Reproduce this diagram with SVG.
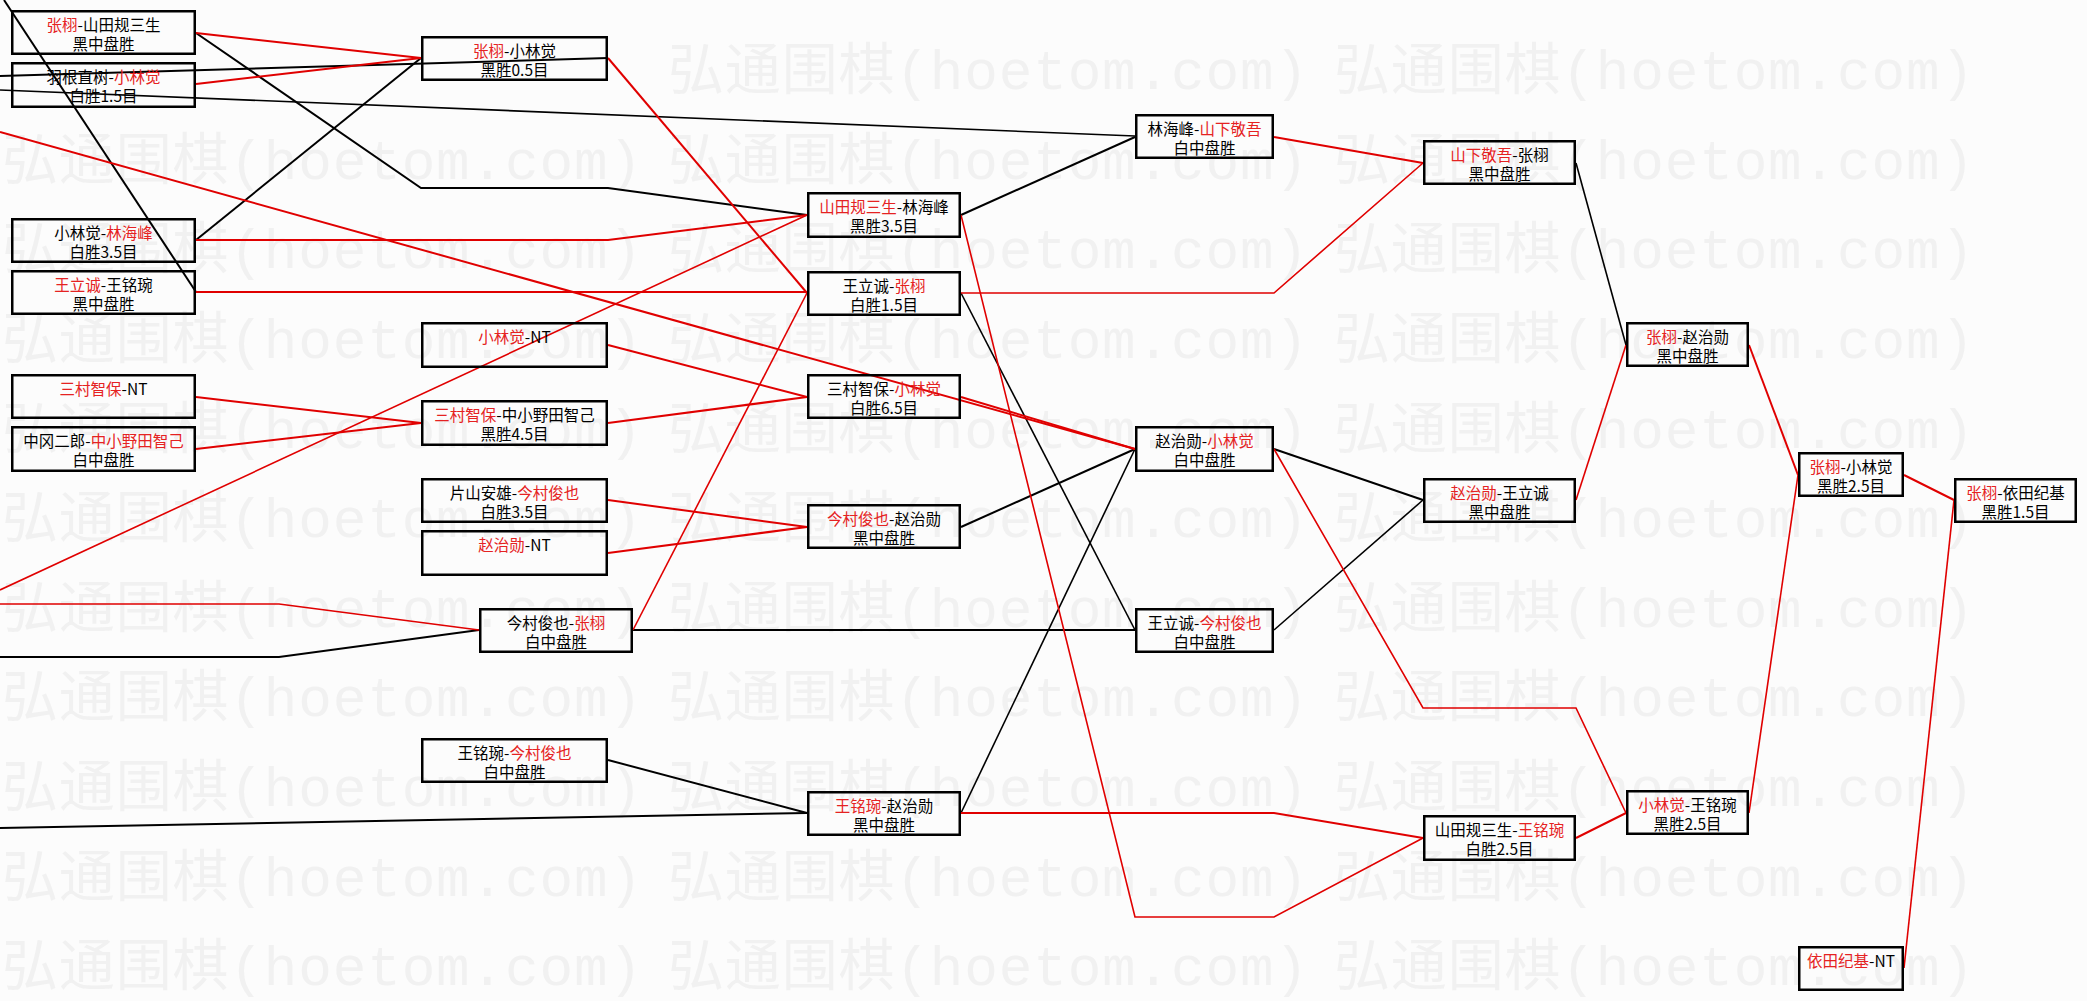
<svg xmlns="http://www.w3.org/2000/svg" width="2087" height="1001" viewBox="0 0 2087 1001">
<style>
.bg{fill:#fcfcfc}
.wm{font-family:"Liberation Mono","Noto Sans CJK SC",monospace;font-size:56px;fill:#f1f1f1}
.b{fill:none;stroke:#000;stroke-width:2.5}
.t{font-family:"Noto Sans CJK SC",sans-serif;font-size:15.5px;text-anchor:middle;fill:#000}
.r{fill:#e52222}
.k{fill:none;stroke:#000;stroke-width:2}
.rl{fill:none;stroke:#e00000;stroke-width:2}
.th{stroke-width:1.6}
</style>
<rect class="bg" x="0" y="0" width="2087" height="1001"/>
<g id="watermark" class="wm">
<text x="668" y="89" textLength="640" lengthAdjust="spacing">弘通围棋(hoetom.com)</text>
<text x="1334" y="89" textLength="640" lengthAdjust="spacing">弘通围棋(hoetom.com)</text>
<text x="2" y="179" textLength="640" lengthAdjust="spacing">弘通围棋(hoetom.com)</text>
<text x="668" y="179" textLength="640" lengthAdjust="spacing">弘通围棋(hoetom.com)</text>
<text x="1334" y="179" textLength="640" lengthAdjust="spacing">弘通围棋(hoetom.com)</text>
<text x="2" y="268" textLength="640" lengthAdjust="spacing">弘通围棋(hoetom.com)</text>
<text x="668" y="268" textLength="640" lengthAdjust="spacing">弘通围棋(hoetom.com)</text>
<text x="1334" y="268" textLength="640" lengthAdjust="spacing">弘通围棋(hoetom.com)</text>
<text x="2" y="358" textLength="640" lengthAdjust="spacing">弘通围棋(hoetom.com)</text>
<text x="668" y="358" textLength="640" lengthAdjust="spacing">弘通围棋(hoetom.com)</text>
<text x="1334" y="358" textLength="640" lengthAdjust="spacing">弘通围棋(hoetom.com)</text>
<text x="2" y="448" textLength="640" lengthAdjust="spacing">弘通围棋(hoetom.com)</text>
<text x="668" y="448" textLength="640" lengthAdjust="spacing">弘通围棋(hoetom.com)</text>
<text x="1334" y="448" textLength="640" lengthAdjust="spacing">弘通围棋(hoetom.com)</text>
<text x="2" y="537" textLength="640" lengthAdjust="spacing">弘通围棋(hoetom.com)</text>
<text x="668" y="537" textLength="640" lengthAdjust="spacing">弘通围棋(hoetom.com)</text>
<text x="1334" y="537" textLength="640" lengthAdjust="spacing">弘通围棋(hoetom.com)</text>
<text x="2" y="627" textLength="640" lengthAdjust="spacing">弘通围棋(hoetom.com)</text>
<text x="668" y="627" textLength="640" lengthAdjust="spacing">弘通围棋(hoetom.com)</text>
<text x="1334" y="627" textLength="640" lengthAdjust="spacing">弘通围棋(hoetom.com)</text>
<text x="2" y="716" textLength="640" lengthAdjust="spacing">弘通围棋(hoetom.com)</text>
<text x="668" y="716" textLength="640" lengthAdjust="spacing">弘通围棋(hoetom.com)</text>
<text x="1334" y="716" textLength="640" lengthAdjust="spacing">弘通围棋(hoetom.com)</text>
<text x="2" y="806" textLength="640" lengthAdjust="spacing">弘通围棋(hoetom.com)</text>
<text x="668" y="806" textLength="640" lengthAdjust="spacing">弘通围棋(hoetom.com)</text>
<text x="1334" y="806" textLength="640" lengthAdjust="spacing">弘通围棋(hoetom.com)</text>
<text x="2" y="896" textLength="640" lengthAdjust="spacing">弘通围棋(hoetom.com)</text>
<text x="668" y="896" textLength="640" lengthAdjust="spacing">弘通围棋(hoetom.com)</text>
<text x="1334" y="896" textLength="640" lengthAdjust="spacing">弘通围棋(hoetom.com)</text>
<text x="2" y="985" textLength="640" lengthAdjust="spacing">弘通围棋(hoetom.com)</text>
<text x="668" y="985" textLength="640" lengthAdjust="spacing">弘通围棋(hoetom.com)</text>
<text x="1334" y="985" textLength="640" lengthAdjust="spacing">弘通围棋(hoetom.com)</text>
</g>
<g id="connectors">
<polyline class="k" points="0,76 608,58"/>
<polyline class="k th" points="0,90 1135,136"/>
<polyline class="k" points="4,0 196,292"/>
<polyline class="k" points="196,33 421,188 608,188 807,215"/>
<polyline class="k" points="196,240 421,58"/>
<polyline class="k" points="0,657 279,657 479,630"/>
<polyline class="k" points="633,630 1135,630"/>
<polyline class="k" points="0,828 807,813"/>
<polyline class="k" points="608,760 807,813"/>
<polyline class="k th" points="961,813 1135,449"/>
<polyline class="k" points="961,215 1135,137"/>
<polyline class="k th" points="961,293 1135,630"/>
<polyline class="k" points="961,527 1135,449"/>
<polyline class="k" points="1274,449 1423,500"/>
<polyline class="k th" points="1274,630 1423,500"/>
<polyline class="k th" points="1576,163 1626,345"/>
<polyline class="rl" points="196,33 421,58"/>
<polyline class="rl" points="196,84 421,58"/>
<polyline class="rl" points="196,240 608,240 807,215"/>
<polyline class="rl" points="196,292 807,292"/>
<polyline class="rl" points="0,132 1135,449"/>
<polyline class="rl" points="608,58 807,293"/>
<polyline class="rl" points="608,345 807,397"/>
<polyline class="rl" points="608,423 807,397"/>
<polyline class="rl" points="196,397 421,423"/>
<polyline class="rl" points="196,449 421,423"/>
<polyline class="rl th" points="0,590 807,215"/>
<polyline class="rl th" points="0,604 279,604 479,630"/>
<polyline class="rl th" points="633,630 807,293"/>
<polyline class="rl" points="608,500 807,527"/>
<polyline class="rl" points="608,553 807,527"/>
<polyline class="rl" points="961,397 1135,449"/>
<polyline class="rl" points="961,813 1274,813 1423,838"/>
<polyline class="rl th" points="961,215 1135,917 1274,917 1423,838"/>
<polyline class="rl th" points="961,293 1274,293 1423,163"/>
<polyline class="rl" points="1274,137 1423,163"/>
<polyline class="rl th" points="1274,449 1423,708 1576,708 1626,813"/>
<polyline class="rl" points="1576,838 1626,813"/>
<polyline class="rl th" points="1576,500 1626,345"/>
<polyline class="rl" points="1749,345 1798,475"/>
<polyline class="rl th" points="1749,813 1798,475"/>
<polyline class="rl" points="1904,475 1954,500"/>
<polyline class="rl th" points="1904,968 1954,500"/>
</g>
<g id="n1"><rect class="b" x="12.25" y="11.25" width="182.5" height="42.5"/><text class="t" x="103.5" y="31"><tspan class="r">张栩</tspan>-山田规三生</text><text class="t" x="103.5" y="49.5">黑中盘胜</text></g>
<g id="n2"><rect class="b" x="12.25" y="63.25" width="182.5" height="43.5"/><text class="t" x="103.5" y="83">羽根直树-<tspan class="r">小林觉</tspan></text><text class="t" x="103.5" y="101.5">白胜1.5目</text></g>
<g id="n3"><rect class="b" x="12.25" y="219.25" width="182.5" height="42.5"/><text class="t" x="103.5" y="239">小林觉-<tspan class="r">林海峰</tspan></text><text class="t" x="103.5" y="257.5">白胜3.5目</text></g>
<g id="n4"><rect class="b" x="12.25" y="271.25" width="182.5" height="42.5"/><text class="t" x="103.5" y="291"><tspan class="r">王立诚</tspan>-王铭琬</text><text class="t" x="103.5" y="309.5">黑中盘胜</text></g>
<g id="n5"><rect class="b" x="12.25" y="375.25" width="182.5" height="42.5"/><text class="t" x="103.5" y="395"><tspan class="r">三村智保</tspan>-NT</text></g>
<g id="n6"><rect class="b" x="12.25" y="427.25" width="182.5" height="43.5"/><text class="t" x="103.5" y="447"><tspan>中冈二郎-</tspan><tspan class="r">中小野田智己</tspan></text><text class="t" x="103.5" y="465.5">白中盘胜</text></g>
<g id="m1"><rect class="b" x="422.25" y="37.25" width="184.5" height="42.5"/><text class="t" x="514.5" y="57"><tspan class="r">张栩</tspan>-小林觉</text><text class="t" x="514.5" y="75.5">黑胜0.5目</text></g>
<g id="m2"><rect class="b" x="422.25" y="323.25" width="184.5" height="43.5"/><text class="t" x="514.5" y="343"><tspan class="r">小林觉</tspan>-NT</text></g>
<g id="m3"><rect class="b" x="422.25" y="401.25" width="184.5" height="43.5"/><text class="t" x="514.5" y="421"><tspan class="r">三村智保</tspan>-中小野田智己</text><text class="t" x="514.5" y="439.5">黑胜4.5目</text></g>
<g id="m4"><rect class="b" x="422.25" y="479.25" width="184.5" height="42.5"/><text class="t" x="514.5" y="499">片山安雄-<tspan class="r">今村俊也</tspan></text><text class="t" x="514.5" y="517.5">白胜3.5目</text></g>
<g id="m5"><rect class="b" x="422.25" y="531.25" width="184.5" height="43.5"/><text class="t" x="514.5" y="551"><tspan class="r">赵治勋</tspan>-NT</text></g>
<g id="m6"><rect class="b" x="480.25" y="609.25" width="151.5" height="42.5"/><text class="t" x="556" y="629">今村俊也-<tspan class="r">张栩</tspan></text><text class="t" x="556" y="647.5">白中盘胜</text></g>
<g id="m7"><rect class="b" x="422.25" y="739.25" width="184.5" height="42.5"/><text class="t" x="514.5" y="759">王铭琬-<tspan class="r">今村俊也</tspan></text><text class="t" x="514.5" y="777.5">白中盘胜</text></g>
<g id="p1"><rect class="b" x="808.25" y="193.25" width="151.5" height="43.5"/><text class="t" x="884" y="213"><tspan class="r">山田规三生</tspan>-林海峰</text><text class="t" x="884" y="231.5">黑胜3.5目</text></g>
<g id="p2"><rect class="b" x="808.25" y="272.25" width="151.5" height="42.5"/><text class="t" x="884" y="292">王立诚-<tspan class="r">张栩</tspan></text><text class="t" x="884" y="310.5">白胜1.5目</text></g>
<g id="p3"><rect class="b" x="808.25" y="375.25" width="151.5" height="42.5"/><text class="t" x="884" y="395">三村智保-<tspan class="r">小林觉</tspan></text><text class="t" x="884" y="413.5">白胜6.5目</text></g>
<g id="p4"><rect class="b" x="808.25" y="505.25" width="151.5" height="42.5"/><text class="t" x="884" y="525"><tspan class="r">今村俊也</tspan>-赵治勋</text><text class="t" x="884" y="543.5">黑中盘胜</text></g>
<g id="p5"><rect class="b" x="808.25" y="792.25" width="151.5" height="42.5"/><text class="t" x="884" y="812"><tspan class="r">王铭琬</tspan>-赵治勋</text><text class="t" x="884" y="830.5">黑中盘胜</text></g>
<g id="q1"><rect class="b" x="1136.25" y="115.25" width="136.5" height="42.5"/><text class="t" x="1204.5" y="135">林海峰-<tspan class="r">山下敬吾</tspan></text><text class="t" x="1204.5" y="153.5">白中盘胜</text></g>
<g id="q2"><rect class="b" x="1136.25" y="427.25" width="136.5" height="43.5"/><text class="t" x="1204.5" y="447">赵治勋-<tspan class="r">小林觉</tspan></text><text class="t" x="1204.5" y="465.5">白中盘胜</text></g>
<g id="q3"><rect class="b" x="1136.25" y="609.25" width="136.5" height="42.5"/><text class="t" x="1204.5" y="629">王立诚-<tspan class="r">今村俊也</tspan></text><text class="t" x="1204.5" y="647.5">白中盘胜</text></g>
<g id="r1"><rect class="b" x="1424.25" y="141.25" width="150.5" height="42.5"/><text class="t" x="1499.5" y="161"><tspan class="r">山下敬吾</tspan>-张栩</text><text class="t" x="1499.5" y="179.5">黑中盘胜</text></g>
<g id="r2"><rect class="b" x="1424.25" y="479.25" width="150.5" height="42.5"/><text class="t" x="1499.5" y="499"><tspan class="r">赵治勋</tspan>-王立诚</text><text class="t" x="1499.5" y="517.5">黑中盘胜</text></g>
<g id="r3"><rect class="b" x="1424.25" y="816.25" width="150.5" height="43.5"/><text class="t" x="1499.5" y="836">山田规三生-<tspan class="r">王铭琬</tspan></text><text class="t" x="1499.5" y="854.5">白胜2.5目</text></g>
<g id="s1"><rect class="b" x="1627.25" y="323.25" width="120.5" height="42.5"/><text class="t" x="1687.5" y="343"><tspan class="r">张栩</tspan>-赵治勋</text><text class="t" x="1687.5" y="361.5">黑中盘胜</text></g>
<g id="s2"><rect class="b" x="1627.25" y="791.25" width="120.5" height="42.5"/><text class="t" x="1687.5" y="811"><tspan class="r">小林觉</tspan>-王铭琬</text><text class="t" x="1687.5" y="829.5">黑胜2.5目</text></g>
<g id="t1"><rect class="b" x="1799.25" y="453.25" width="103.5" height="42.5"/><text class="t" x="1851" y="473"><tspan class="r">张栩</tspan>-小林觉</text><text class="t" x="1851" y="491.5">黑胜2.5目</text></g>
<g id="t2"><rect class="b" x="1799.25" y="947.25" width="103.5" height="42.5"/><text class="t" x="1851" y="967"><tspan class="r">依田纪基</tspan>-NT</text></g>
<g id="u1"><rect class="b" x="1955.25" y="479.25" width="120.5" height="42.5"/><text class="t" x="2015.5" y="499"><tspan class="r">张栩</tspan>-依田纪基</text><text class="t" x="2015.5" y="517.5">黑胜1.5目</text></g>
</svg>
